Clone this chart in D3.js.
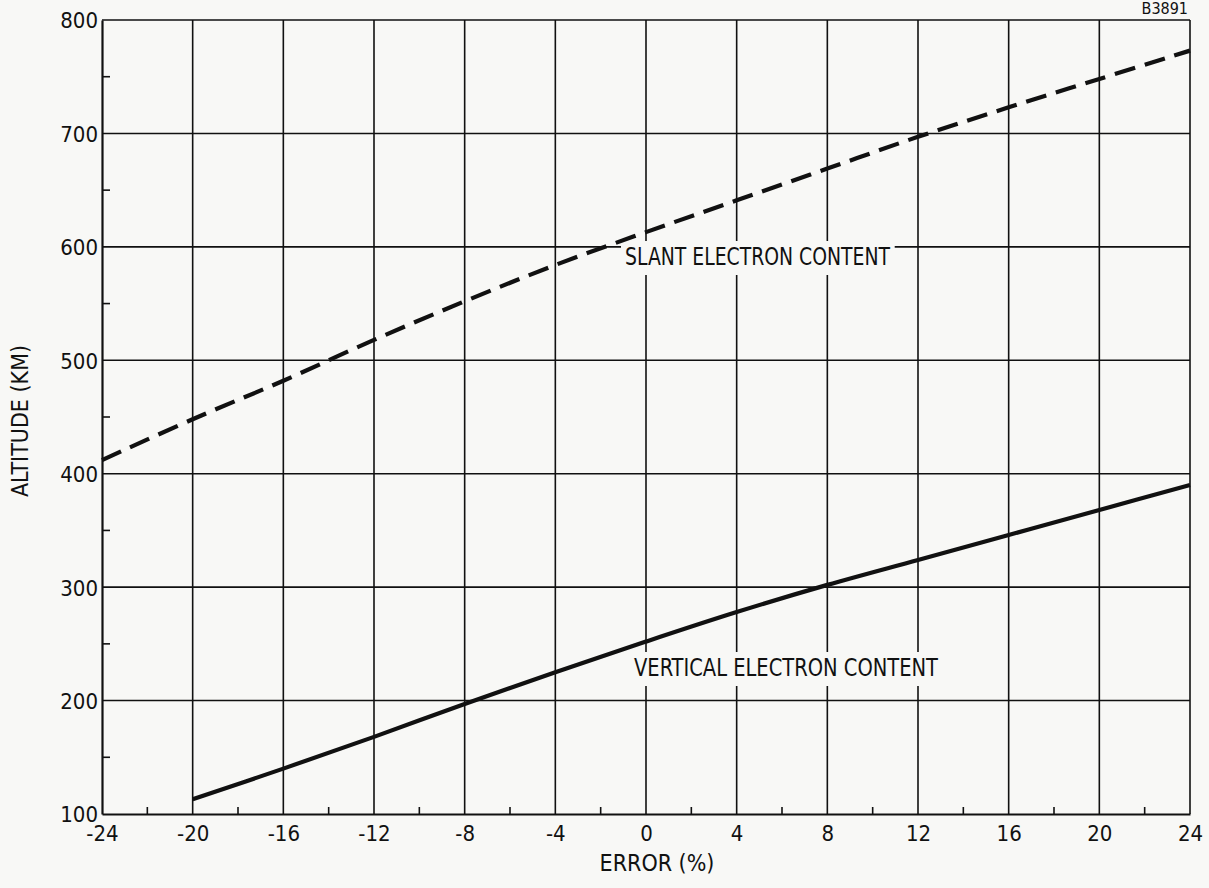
<!DOCTYPE html>
<html>
<head>
<meta charset="utf-8">
<script src="https://cdn.jsdelivr.net/npm/d3@7"></script>
<style>
  html, body { margin: 0; padding: 0; background: #f8f8f6; }
  svg { display: block; }
  text { font-family: "Liberation Sans Narrow", "DejaVu Sans Condensed", "DejaVu Sans", sans-serif; fill: #111; }
</style>
</head>
<body>
<svg id="chart" width="1209" height="888"></svg>
<script>
// Error (%) sample positions along the horizontal axis
const errorPct = [-24, -20, -16, -12, -8, -4, 0, 4, 8, 12, 16, 20, 24];
// Altitude (km) for the slant electron content curve
const slantAltitude = [412, 448, 482, 518, 552, 584, 613, 641, 669, 697, 723, 748, 773];
// Vertical electron content curve (starts at -20 %)
const verticalError = [-20, -16, -12, -8, -4, 0, 4, 8, 12, 16, 20, 24];
const verticalAltitude = [113, 140, 168, 197, 225, 252, 278, 302, 324, 346, 368, 390];

const xMajorTicks = [-24, -20, -16, -12, -8, -4, 0, 4, 8, 12, 16, 20, 24];
const xMinorTicks = [-22, -18, -14, -10, -6, -2, 2, 6, 10, 14, 18, 22];
const yMajorTicks = [100, 200, 300, 400, 500, 600, 700, 800];
const yMinorTicks = [150, 250, 350, 450, 550, 650, 750];

const bg = "#f8f8f6";
const ink = "#111";

const svg = d3.select("#chart");
const x = d3.scaleLinear().domain([-24, 24]).range([102, 1190]);
const y = d3.scaleLinear().domain([100, 800]).range([814, 20]);

// Grid lines
const grid = svg.append("g").attr("stroke", ink).attr("stroke-width", 1.6);
grid.selectAll("line.v").data(xMajorTicks.slice(1)).join("line")
  .attr("x1", d => x(d)).attr("x2", d => x(d))
  .attr("y1", y(800)).attr("y2", y(100));
grid.selectAll("line.h").data(yMajorTicks.slice(1)).join("line")
  .attr("y1", d => y(d)).attr("y2", d => y(d))
  .attr("x1", x(-24)).attr("x2", x(24));

// Axes (left and bottom) with inward minor ticks
const xAxis = d3.axisBottom(x).tickValues(xMajorTicks).tickSize(0).tickPadding(11)
  .tickFormat(d => d);
const gx = svg.append("g").attr("transform", `translate(0,${y(100)})`).call(xAxis);
gx.select(".domain").attr("stroke", ink).attr("stroke-width", 2.2);
gx.selectAll("text").attr("font-size", 22).attr("fill", ink);

const yAxis = d3.axisLeft(y).tickValues(yMajorTicks).tickSize(0).tickPadding(4);
const gy = svg.append("g").attr("transform", `translate(${x(-24)},0)`).call(yAxis);
gy.select(".domain").attr("stroke", ink).attr("stroke-width", 2.2);
gy.selectAll("text").attr("font-size", 22).attr("fill", ink).attr("dy", "0.36em");

svg.append("g").selectAll("line").data(xMinorTicks).join("line")
  .attr("x1", d => x(d)).attr("x2", d => x(d))
  .attr("y1", y(100)).attr("y2", y(100) - 7)
  .attr("stroke", ink).attr("stroke-width", 1.6);
svg.append("g").selectAll("line").data(yMinorTicks).join("line")
  .attr("y1", d => y(d)).attr("y2", d => y(d))
  .attr("x1", x(-24)).attr("x2", x(-24) + 8)
  .attr("stroke", ink).attr("stroke-width", 1.6);

// Curve labels sit on blank patches that interrupt the grid
function curveLabel(txt, xPos, yPos, size, width) {
  const g = svg.append("g");
  const rect = g.append("rect").attr("fill", bg);
  const t = g.append("text").attr("x", xPos).attr("y", yPos)
    .attr("font-size", size)
    .attr("textLength", width).attr("lengthAdjust", "spacingAndGlyphs")
    .text(txt);
  const bb = t.node().getBBox();
  rect.attr("x", bb.x - 4).attr("y", bb.y - 2)
    .attr("width", bb.width + 8).attr("height", bb.height + 6);
  return g;
}
curveLabel("SLANT ELECTRON CONTENT", 625, 265, 24, 265);
curveLabel("VERTICAL ELECTRON CONTENT", 634, 676, 24, 304);

// Curves
const line = d3.line().x(d => x(d[0])).y(d => y(d[1])).curve(d3.curveCatmullRom);
svg.append("path")
  .datum(errorPct.map((e, i) => [e, slantAltitude[i]]))
  .attr("d", line).attr("fill", "none").attr("stroke", ink)
  .attr("stroke-width", 4.2).attr("stroke-dasharray", "21,10");
svg.append("path")
  .datum(verticalError.map((e, i) => [e, verticalAltitude[i]]))
  .attr("d", line).attr("fill", "none").attr("stroke", ink)
  .attr("stroke-width", 4.2);

// Axis titles
svg.append("text").attr("x", 657).attr("y", 871).attr("text-anchor", "middle")
  .attr("font-size", 23).text("ERROR (%)");
svg.append("text").attr("transform", "translate(28,421) rotate(-90)")
  .attr("text-anchor", "middle").attr("font-size", 23).text("ALTITUDE (KM)");

// Figure number
svg.append("text").attr("x", 1188).attr("y", 14).attr("text-anchor", "end")
  .attr("font-size", 16).text("B3891");
</script>
</body>
</html>
